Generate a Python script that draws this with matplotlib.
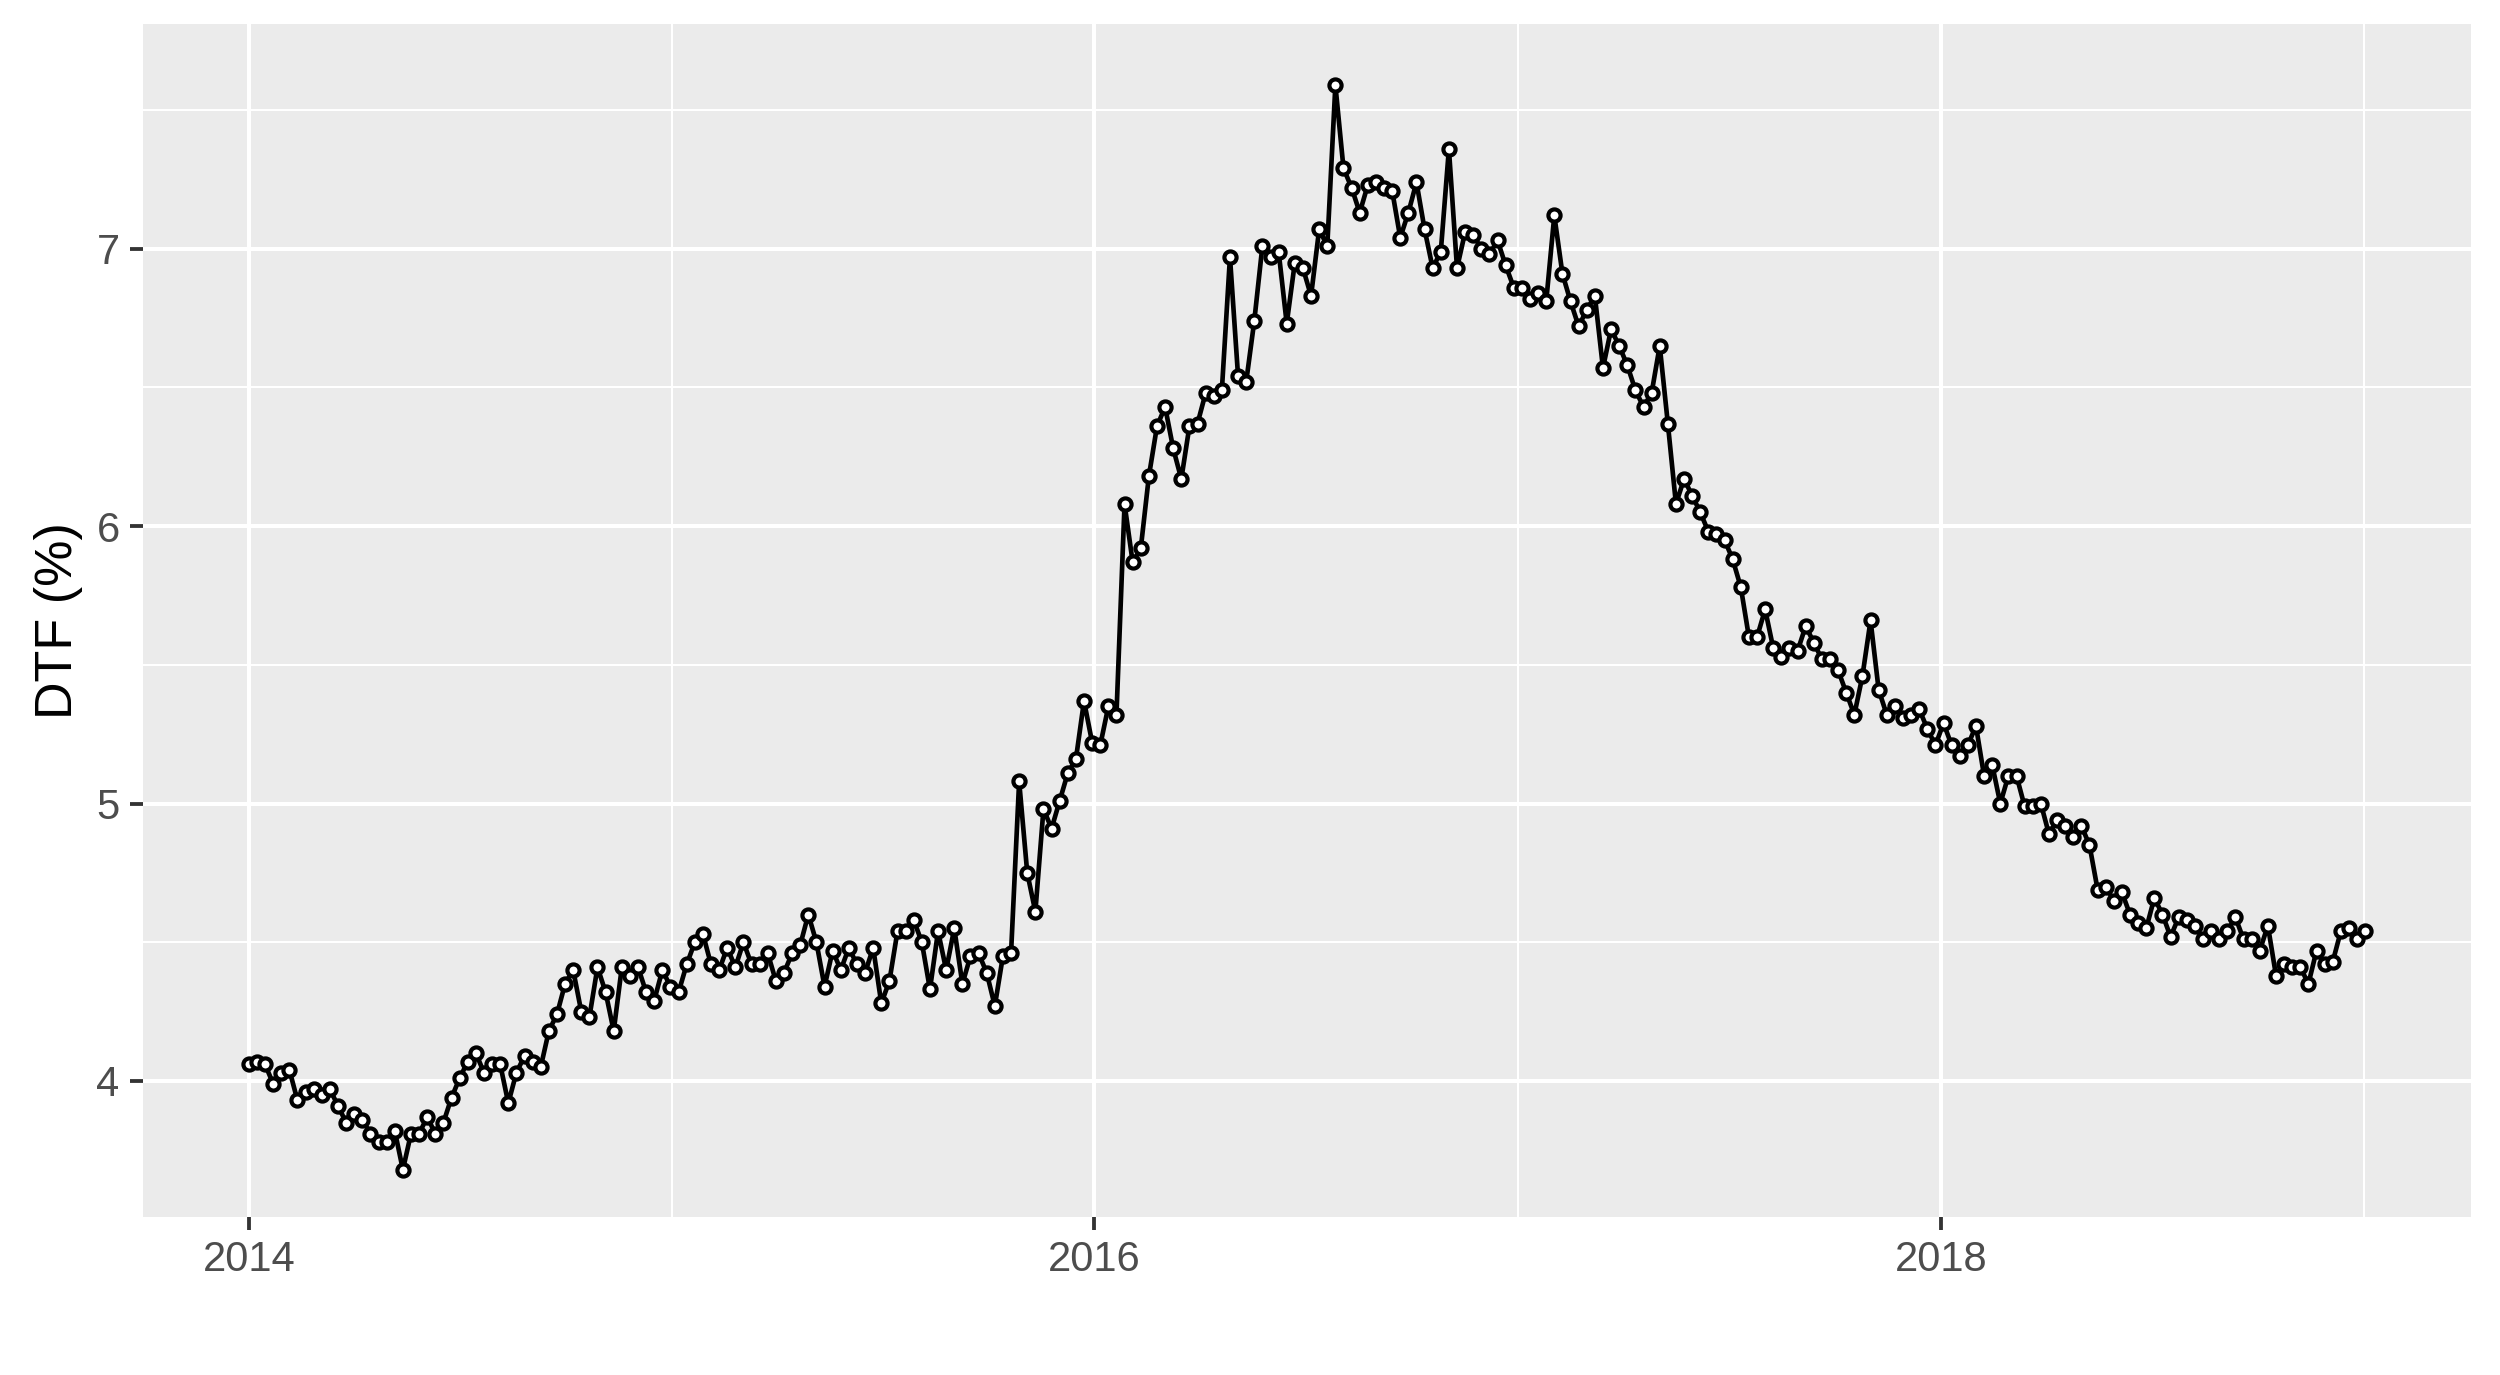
import matplotlib
matplotlib.use('Agg')
import matplotlib.pyplot as plt
import matplotlib.dates as mdates
from matplotlib.ticker import MultipleLocator
import pandas as pd

# weekly DTF rate (%), first week of 2014 to first week of 2019
start_date = '2014-01-01'
dtf = [
    4.06, 4.07, 4.06, 3.99, 4.03, 4.04, 3.93, 3.96, 3.97, 3.95, 3.97, 3.91, 3.85, 3.88,
    3.86, 3.81, 3.78, 3.78, 3.82, 3.68, 3.81, 3.81, 3.87, 3.81, 3.85, 3.94, 4.01,
    4.07, 4.10, 4.03, 4.06, 4.06, 3.92, 4.03, 4.09, 4.07, 4.05, 4.18, 4.24, 4.35,
    4.40, 4.25, 4.23, 4.41, 4.32, 4.18, 4.41, 4.38, 4.41, 4.32, 4.29, 4.40, 4.34,
    4.32, 4.42, 4.50, 4.53, 4.42, 4.40, 4.48, 4.41, 4.50, 4.42, 4.42, 4.46, 4.36,
    4.39, 4.46, 4.49, 4.60, 4.50, 4.34, 4.47, 4.40, 4.48, 4.42, 4.39, 4.48, 4.28, 4.36,
    4.54, 4.54, 4.58, 4.50, 4.33, 4.54, 4.40, 4.55, 4.35, 4.45, 4.46, 4.39, 4.27,
    4.45, 4.46, 5.08, 4.75, 4.61, 4.98, 4.91, 5.01, 5.11, 5.16, 5.37, 5.22, 5.21, 5.35,
    5.32, 6.08, 5.87, 5.92, 6.18, 6.36, 6.43, 6.28, 6.17, 6.36, 6.37, 6.48, 6.47,
    6.49, 6.97, 6.54, 6.52, 6.74, 7.01, 6.97, 6.99, 6.73, 6.95, 6.93, 6.83, 7.07, 7.01,
    7.59, 7.29, 7.22, 7.13, 7.23, 7.24, 7.22, 7.21, 7.04, 7.13, 7.24, 7.07, 6.93,
    6.99, 7.36, 6.93, 7.06, 7.05, 7.00, 6.98, 7.03, 6.94, 6.86, 6.86, 6.82,
    6.84, 6.81, 7.12, 6.91, 6.81, 6.72, 6.78, 6.83, 6.57, 6.71, 6.65, 6.58, 6.49,
    6.43, 6.48, 6.65, 6.37, 6.08, 6.17, 6.11, 6.05, 5.98, 5.97, 5.95, 5.88, 5.78,
    5.60, 5.60, 5.70, 5.56, 5.53, 5.56, 5.55, 5.64, 5.58, 5.52, 5.52, 5.48, 5.40,
    5.32, 5.46, 5.66, 5.41, 5.32, 5.35, 5.31, 5.32, 5.34, 5.27, 5.21, 5.29, 5.21, 5.17,
    5.21, 5.28, 5.10, 5.14, 5.00, 5.10, 5.10, 4.99, 4.99, 5.00, 4.89, 4.94, 4.92,
    4.88, 4.92, 4.85, 4.69, 4.70, 4.65, 4.68, 4.60, 4.57, 4.55, 4.66, 4.60, 4.52, 4.59,
    4.58, 4.56, 4.51, 4.54, 4.51, 4.54, 4.59, 4.51, 4.51, 4.47, 4.56, 4.38, 4.42,
    4.41, 4.41, 4.35, 4.47, 4.42, 4.43, 4.54, 4.55, 4.51, 4.54,
]
y_label = 'DTF (%)'

dates = pd.date_range(start_date, periods=len(dtf), freq='7D')

plt.rcParams['font.family'] = ['Liberation Sans', 'DejaVu Sans']

fig = plt.figure(figsize=(10, 5.5), dpi=250)
ax = fig.add_axes([0.0572, 0.115, 0.9312, 0.8675])

# ggplot2 grey theme look
ax.set_facecolor('#EBEBEB')
for s in ax.spines.values():
    s.set_visible(False)
ax.set_axisbelow(True)
ax.grid(which='major', color='white', linewidth=1.15)
ax.grid(which='minor', color='white', linewidth=0.6)

ax.plot(dates, dtf, color='black', linewidth=1.35, marker='o', markersize=3.5,
        markerfacecolor='white', markeredgecolor='black', markeredgewidth=1.2)

ax.margins(x=0.05)
ax.set_ylim(3.51, 7.81)

ax.xaxis.set_major_locator(mdates.YearLocator(2))
ax.xaxis.set_minor_locator(mdates.YearLocator(1))
ax.xaxis.set_major_formatter(mdates.DateFormatter('%Y'))
ax.yaxis.set_major_locator(MultipleLocator(1))
ax.yaxis.set_minor_locator(MultipleLocator(0.5))

ax.tick_params(which='major', length=3.7, width=1.1, color='#333333',
               labelsize=12, labelcolor='#4D4D4D', pad=3)
ax.tick_params(which='minor', length=0)

ax.set_ylabel(y_label, fontsize=15, color='black', labelpad=4)

fig.savefig('out.png', dpi=250)
